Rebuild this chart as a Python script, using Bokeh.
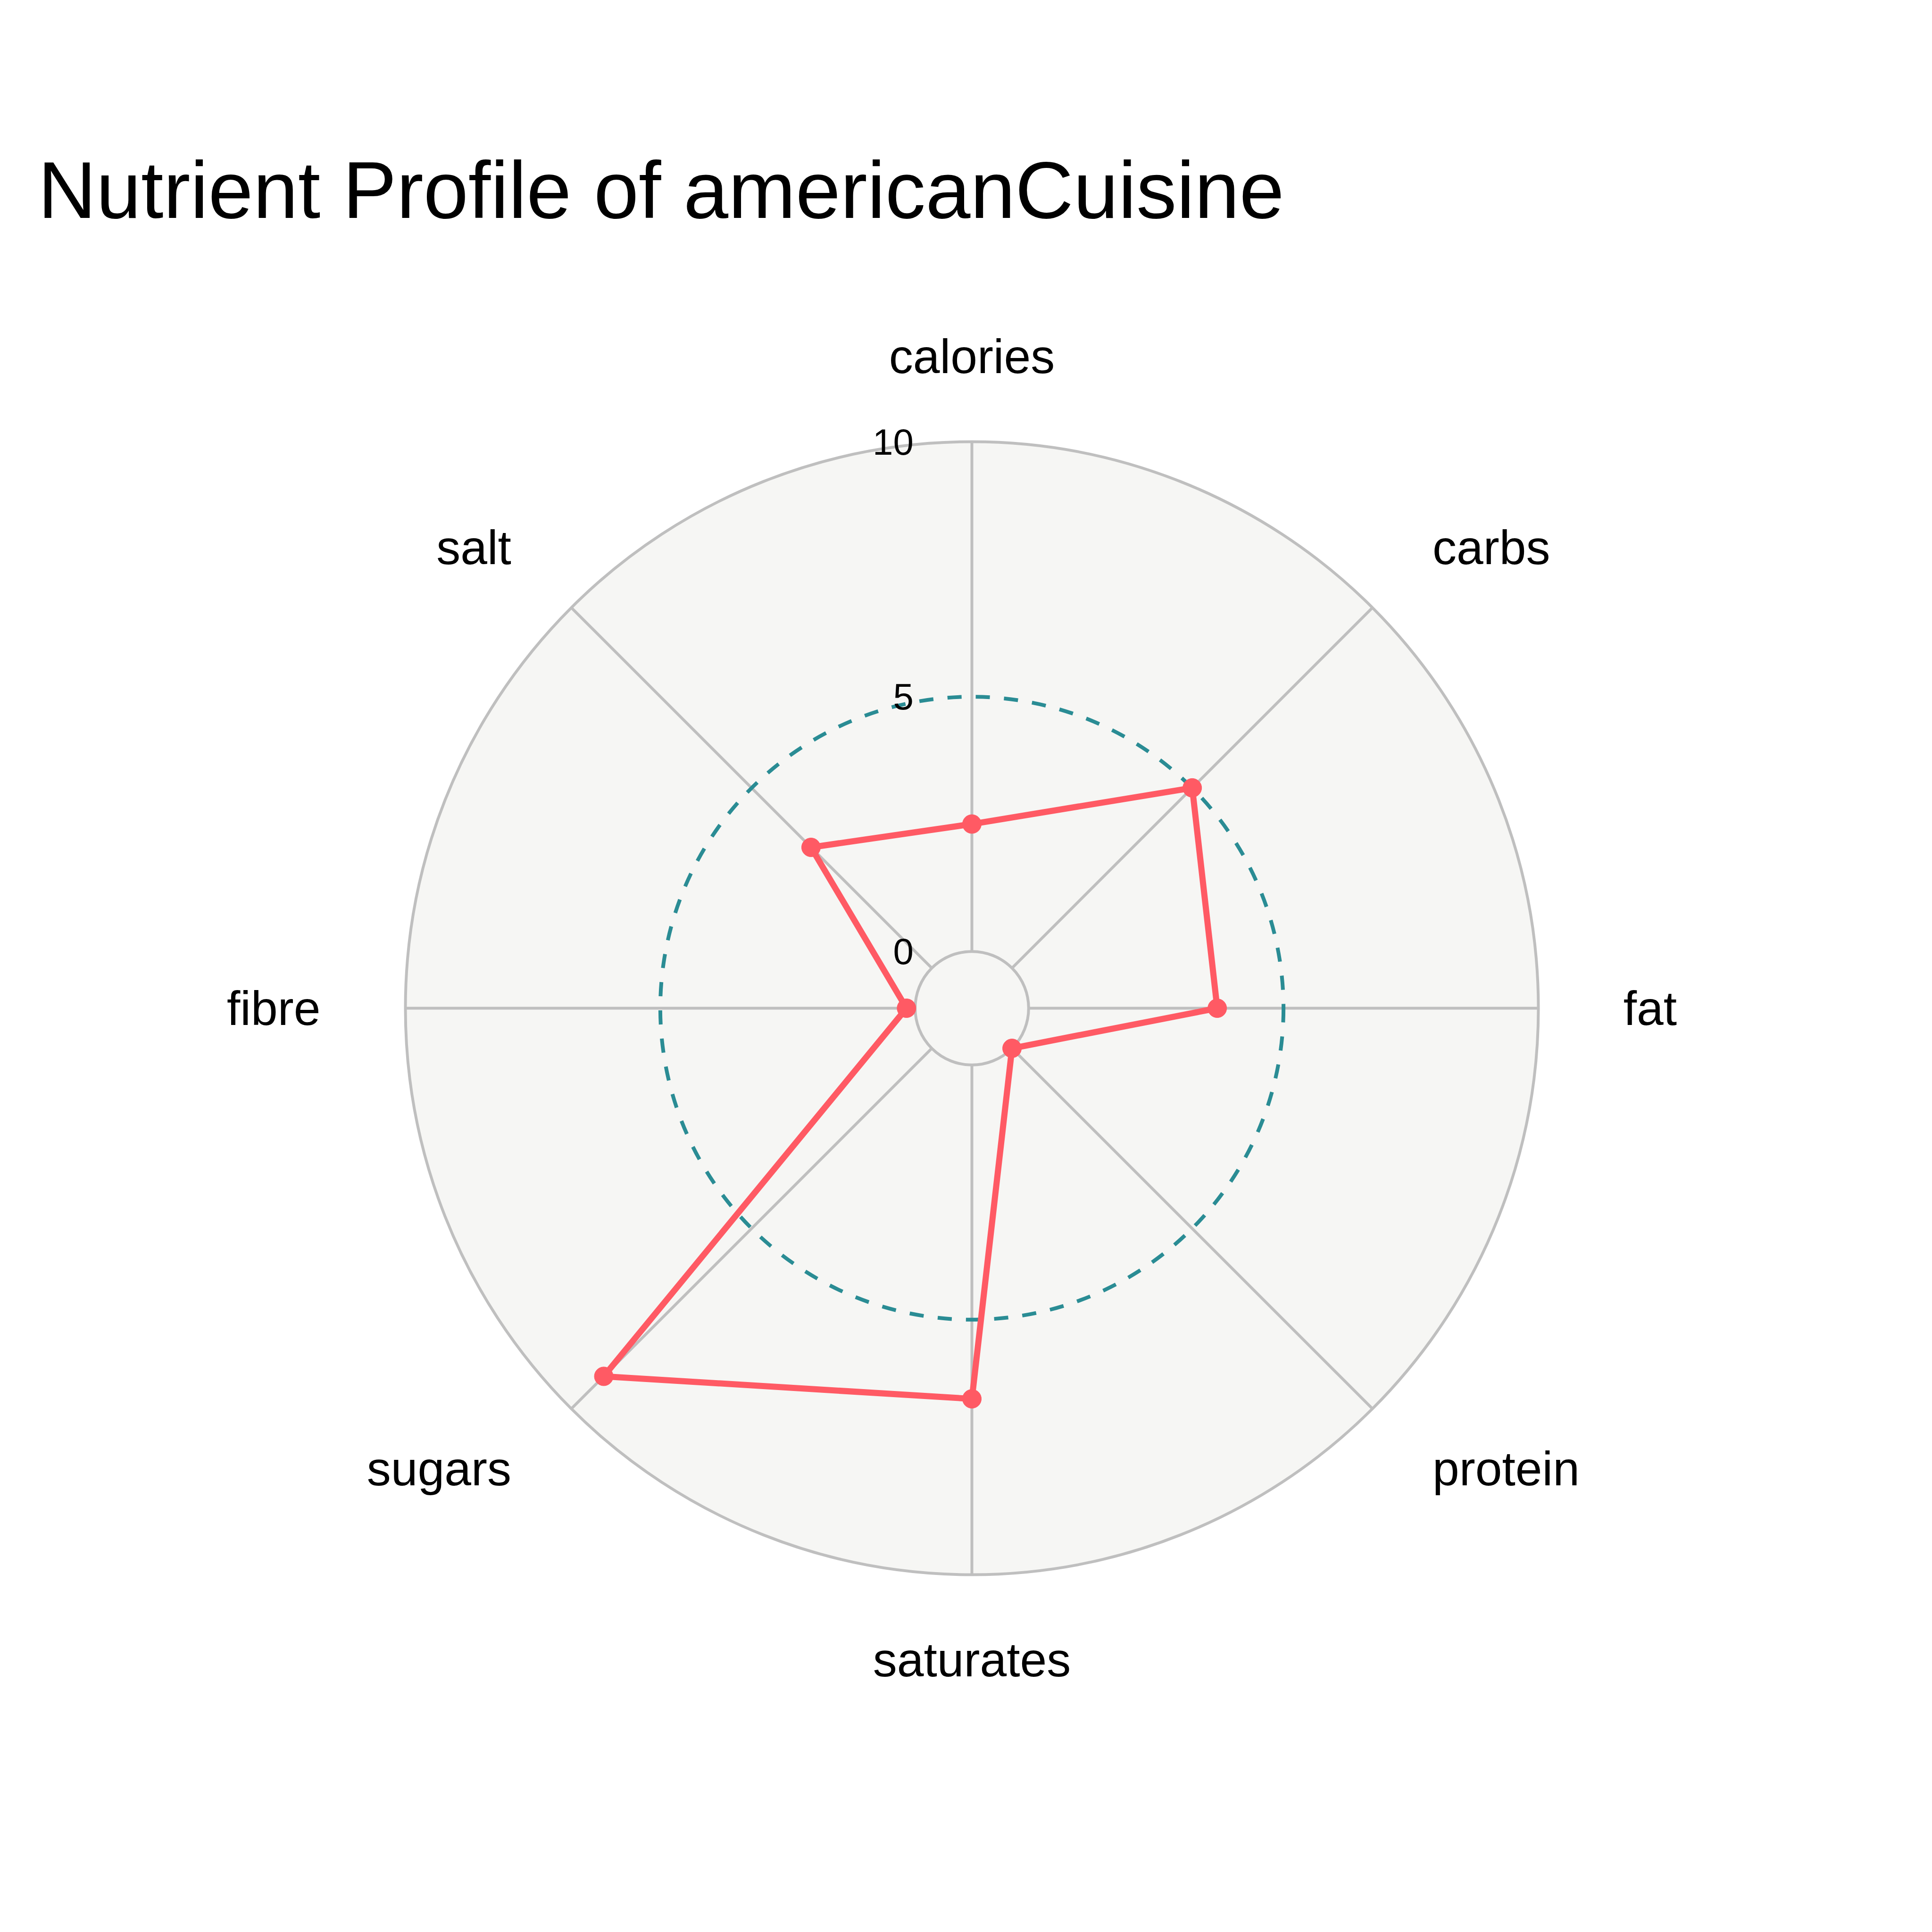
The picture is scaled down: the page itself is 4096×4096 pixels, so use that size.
import numpy as np
from bokeh.plotting import figure
from bokeh.models import Range1d, ColumnDataSource, Label
from bokeh.core.properties import value
from bokeh.embed import file_html
from bokeh.resources import INLINE

# ---- data ----
title_text = "Nutrient Profile of americanCuisine"
categories = ["calories", "carbs", "fat", "protein", "saturates", "sugars", "fibre", "salt"]
values = [2.5, 5.0, 3.7, 0.0, 6.55, 9.1, 0.17, 3.35]
tick_values = [0, 5, 10]
tick_labels = ["0", "5", "10"]
r_max = 10

# ---- geometry / style ----
W = H = 4096
PX = 108.07          # screen px per radial unit
HOLE = 1.113         # hole radius in radial units
CX, CY = 2060, 2137  # center in screen px (from top-left)
FONT = value("Liberation Sans")
BG = "#f6f6f4"
GRID = "#bfbfbf"
RED = "#ff5a64"
TEAL = "#2a8c94"

p = figure(width=W, height=H, output_backend="svg", toolbar_location=None,
           x_range=Range1d(-CX / PX, (W - CX) / PX),
           y_range=Range1d(-(H - CY) / PX, CY / PX),
           x_axis_location=None, y_axis_location=None,
           min_border=0, outline_line_color=None,
           background_fill_color="white", border_fill_color="white")
p.grid.visible = False

n = len(categories)
theta = np.pi / 2 - np.arange(n) * 2 * np.pi / n

# polar background disk
p.circle(x=[0], y=[0], radius=[HOLE + r_max], fill_color=BG,
         line_color=GRID, line_width=6)

# spokes
p.segment(x0=HOLE * np.cos(theta), y0=HOLE * np.sin(theta),
          x1=(HOLE + r_max) * np.cos(theta), y1=(HOLE + r_max) * np.sin(theta),
          line_color=GRID, line_width=6)

# hole
p.circle(x=[0], y=[0], radius=[HOLE], fill_color=BG, line_color=GRID, line_width=6)

# dashed mid gridline
p.circle(x=[0], y=[0], radius=[HOLE + tick_values[1]], fill_color=None,
         line_color=TEAL, line_width=8, line_dash="30 30")

# data trace
vals = np.array(values)
rr = HOLE + vals
xs = rr * np.cos(theta)
ys = rr * np.sin(theta)
src = ColumnDataSource(dict(x=xs, y=ys, cat=categories, v=values))
p.line(x=np.append(xs, xs[0]), y=np.append(ys, ys[0]), line_color=RED,
       line_width=13, line_join="round")
p.scatter(x="x", y="y", source=src, size=40, fill_color=RED, line_color=RED)

# radial tick labels
tv = np.array(tick_values, dtype=float)
p.text(x=np.full(len(tv), -145 / 126.7), y=HOLE + tv, text=tick_labels,
       text_font=FONT, text_font_size="78px", text_color="black",
       text_align="right", text_baseline="middle")

# category labels
LR = 12.78
lx = LR * np.cos(theta)
ly = LR * np.sin(theta)
aligns = []
for c in np.cos(theta):
    if c > 0.1:
        aligns.append("left")
    elif c < -0.1:
        aligns.append("right")
    else:
        aligns.append("center")
lsrc = ColumnDataSource(dict(x=lx, y=ly, t=categories, a=aligns))
p.text(x="x", y="y", text="t", source=lsrc, text_align="a", text_baseline="middle",
       text_font=FONT, text_font_size="102px", text_color="black")

# title
p.add_layout(Label(x=(80 - CX) / PX, y=(CY - 402) / PX, text=title_text,
                   text_font="Liberation Sans", text_font_size="171px",
                   text_color="black", text_align="left", text_baseline="alphabetic"))

open("out.html", "w").write(file_html(p, INLINE))
